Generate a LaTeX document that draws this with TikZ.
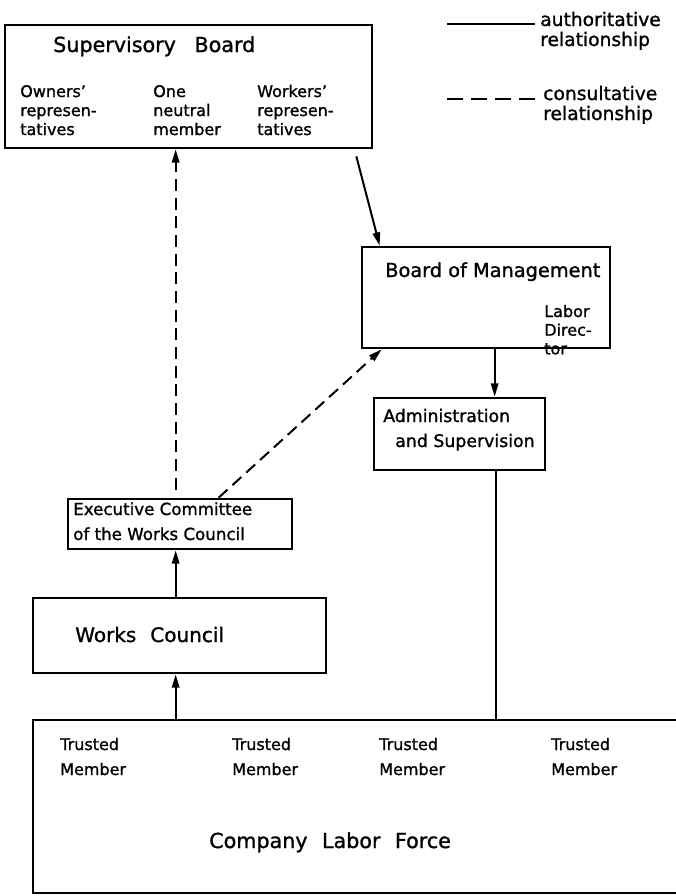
\documentclass[tikz,border=0pt]{standalone}
\usepackage{fontspec}
\setmainfont{DejaVu Sans}[FakeBold=1.2]
\usetikzlibrary{arrows.meta,fit,calc}
\newcommand{\fsz}[1]{\fontsize{#1pt}{#1pt}\selectfont}
\newcommand{\tlines}[2]{\vtop{\baselineskip=#1\relax #2}}
\tikzset{
  box/.style={draw, line width=2pt, inner sep=0pt},
  arr/.style={line width=1.5pt, -{Triangle[length=10pt,width=5.5pt]}},
  dsh/.style={arr, dash pattern=on 9pt off 5pt},
  lbl/.style={inner sep=0pt, anchor=base west},
}
\begin{document}
\begin{tikzpicture}[x=0.75pt,y=-0.75pt]
\useasboundingbox (0,0) rectangle (675,896);
% boxes
\node[box, fit={(5,25)(372,148)}] (sb) {};
\node[box, fit={(362,247)(610,348)}] (bom) {};
\node[box, fit={(374,398)(545,470)}] (adm) {};
\node[box, fit={(68,499)(292,549)}] (exe) {};
\node[box, fit={(33,598)(326,673)}] (wc) {};
\node[box, fit={(33,720)(678,893)}] (clf) {};
% texts
\node[lbl, font={\fsz{15.5}}] (tsb) at (53,52) {Supervisory\hspace{0.9em}Board};
\node[lbl, font={\fsz{12}}] (town) at (20,97) {\tlines{14.25pt}{\hbox{Owners'}\hbox{represen-}\hbox{tatives}}};
\node[lbl, font={\fsz{12}}] (tneu) at (153,97) {\tlines{14.25pt}{\hbox{One}\hbox{neutral}\hbox{member}}};
\node[lbl, font={\fsz{12}}] (twor) at (257,97) {\tlines{14.25pt}{\hbox{Workers'}\hbox{represen-}\hbox{tatives}}};
\node[lbl, font={\fsz{14}}] (tauth) at (540,26) {\tlines{15pt}{\hbox{authoritative}\hbox{relationship}}};
\node[lbl, font={\fsz{14}}] (tcons) at (543,100) {\tlines{15pt}{\hbox{consultative}\hbox{relationship}}};
\node[lbl, font={\fsz{14.5}}] (tbom) at (385,277) {Board of Management};
\node[lbl, font={\fsz{12}}] (tlab) at (544,317) {\tlines{14pt}{\hbox{Labor}\hbox{Direc-}\hbox{tor}}};
\node[lbl, font={\fsz{13}}] (tadm1) at (383,422) {Administration};
\node[lbl, font={\fsz{13}}] (tadm2) at (395,447) {and Supervision};
\node[lbl, font={\fsz{12.5}}] (texe) at (73,515) {\tlines{18.75pt}{\hbox{Executive Committee}\hbox{of the Works Council}}};
\node[lbl, font={\fsz{15}}] (twc) at (75,642) {Works\hspace{0.7em}Council};
\node[lbl, font={\fsz{12}}] (tm1) at (60,750) {\tlines{18.75pt}{\hbox{Trusted}\hbox{Member}}};
\node[lbl, font={\fsz{12}}] (tm2) at (232,750) {\tlines{18.75pt}{\hbox{Trusted}\hbox{Member}}};
\node[lbl, font={\fsz{12}}] (tm3) at (379,750) {\tlines{18.75pt}{\hbox{Trusted}\hbox{Member}}};
\node[lbl, font={\fsz{12}}] (tm4) at (551,750) {\tlines{18.75pt}{\hbox{Trusted}\hbox{Member}}};
\node[lbl, font={\fsz{15.5}}] (tclf) at (209,848) {Company\hspace{0.7em}Labor\hspace{0.7em}Force};
% legend
\coordinate (la1) at (447,24);
\coordinate (la2) at (535,24);
\coordinate (lc1) at (447,99);
\coordinate (lc2) at (537,99);
\draw[line width=1.5pt] (la1) -- (la2);
\draw[line width=1.8pt, dash pattern=on 12pt off 6pt] (lc1) -- (lc2);
% connectors
\draw[arr] ($(sb.south east)+(-17,7)$) -- ($(bom.north west)+(19,0)$);
\draw[arr] ($(bom.south west)+(134,0)$) -- ($(adm.north west)+(122,0)$);
\draw[line width=1.5pt] ($(adm.south west)+(123,0)$) -- ($(clf.north west)+(464,0)$);
\draw[arr] ($(clf.north west)+(144,0)$) -- ($(wc.south west)+(144,0)$);
\draw[arr] ($(wc.north west)+(144,0)$) -- ($(exe.south west)+(109,0)$);
\draw[dsh] ($(exe.north west)+(109,-8)$) -- ($(sb.south west)+(172,0)$);
\draw[dsh] ($(exe.north west)+(152,0)$) -- ($(bom.south west)+(21,0)$);
\end{tikzpicture}
\end{document}
